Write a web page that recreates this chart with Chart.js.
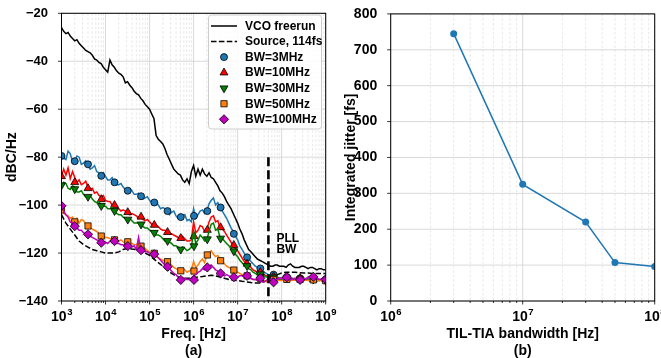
<!DOCTYPE html>
<html>
<head>
<meta charset="utf-8">
<script src="https://cdn.jsdelivr.net/npm/chart.js@4.4.0/dist/chart.umd.min.js"></script>
<style>
  html, body { margin: 0; padding: 0; background: #fff; }
  #wrap { position: relative; width: 661px; height: 358px; overflow: hidden; }
  #leftBox { position: absolute; left: 0; top: 0; width: 345px; height: 358px; }
  #rightBox { position: absolute; left: 330px; top: 0; width: 331px; height: 358px; }
</style>
</head>
<body>
<div id="wrap">
  <div id="leftBox"><canvas id="noiseChart"></canvas></div>
  <div id="rightBox"><canvas id="jitterChart"></canvas></div>
</div>
<script>
// ---- (a) phase noise ----
const decades = [1e3, 1e4, 1e5, 1e6, 1e7, 1e8];
// fine grid (20 per decade) for the measured traces, coarse grid (10 per decade) for the source curve
const mantissaFine = [1, 1.12, 1.26, 1.41, 1.58, 1.78, 2, 2.24, 2.51, 2.82,
  3.16, 3.55, 3.98, 4.47, 5.01, 5.62, 6.31, 7.08, 7.94, 8.91];
const mantissaCoarse = [1, 1.26, 1.58, 2, 2.51, 3.16, 3.98, 5.01, 6.31, 7.94];
const freqFineHz = decades.flatMap(d => mantissaFine.map(m => m * d)).concat([1e9]);
const freqCoarseHz = decades.flatMap(d => mantissaCoarse.map(m => m * d)).concat([1e9]);

const vcoFreerun = [
  -26, -27.5, -28.5, -28, -29.5, -30.5, -31.5, -31, -32.5, -33.5,
  -34.5, -35.5, -36, -36.5, -37.5, -39, -39.5, -40.5, -41, -42.5,
  -43.5, -44.5, -39.5, -41.5, -42.5, -44, -45, -45.5, -46.5, -49,
  -48.5, -50, -51, -52.5, -53.5, -54, -55.5, -56.5, -58, -59,
  -60, -62, -64, -71, -72.5, -73.5, -74.5, -76.5, -79, -81,
  -83, -85, -86, -87, -87.5, -89.5, -90.5, -89, -91, -86,
  -83.5, -88, -85, -87.5, -85, -87, -88, -86.5, -88.5, -89,
  -90.5, -92, -94, -95, -96.5, -98.5, -100, -101.5, -103.5, -105.5,
  -107.5, -110, -112, -114.5, -116.5, -118.5, -119.5, -120.5, -121.5, -122.5,
  -123, -123.5, -124, -124.5, -125, -125.5, -125.5, -125, -125, -125.5,
  -125.5, -125.5, -126, -125, -124.5, -125.5, -126, -126, -126, -125.5,
  -125.5, -126, -126.5, -126, -126, -126.5, -127, -126.5, -126.5, -127,
  -127];
const source114fs = [
  -104, -107.5, -110, -112.5, -115, -116.5, -117.5, -118.5, -119, -119.5,
  -120, -120, -120, -119.5, -118.5, -118, -118.3, -118.5, -119, -120,
  -121, -122.5, -124, -125.5, -127, -128.5, -129.5, -130.3, -130.5, -130.5,
  -130.3, -130, -129.8, -129.5, -129.3, -129.5, -130, -130.5, -131, -131.3,
  -131.5, -131.8, -132, -132.3, -132.5, -132.5, -132, -131, -130, -129,
  -128.3, -128, -128, -128, -128.2, -128.3, -128.3, -128.5, -128.5, -128.5,
  -128.5];
const bw3MHz = [
  -79.5, -80.5, -81, -77.5, -78.5, -82, -81.5, -79.5, -80, -83,
  -82.5, -81.5, -83, -85, -84.5, -83.5, -86, -86.5, -87.5, -86.5,
  -88, -89.5, -89.5, -88.5, -90.5, -91.5, -91.5, -91, -92.5, -93.5,
  -94, -93, -94, -95.5, -95.5, -95, -96.3, -97.5, -97, -96.5,
  -98, -99, -99, -98.5, -100, -101.5, -101, -101.5, -102.5, -104,
  -103, -102.5, -104.5, -105.5, -105, -104.5, -104, -106.5, -106, -107,
  -101.5, -105.5, -104, -102.5, -102, -103.5, -102.5, -99.5, -98, -97,
  -100, -99, -101, -102.5, -104, -105.5, -107.5, -109.5, -111, -113,
  -114.5, -117, -118.5, -120, -121.5, -122.5, -123.5, -124.5, -125.5, -126,
  -126.5, -127.5, -128, -128.5, -129, -129.5, -130, -129.5, -130, -130.5,
  -130.5, -130, -130.5, -131, -130.5, -130.5, -131, -130.5, -130.5, -131,
  -131, -130.5, -130.5, -131, -131, -130.5, -131, -131, -131, -130.5,
  -131];
const bw10MHz = [
  -88, -85, -87.5, -84.5, -89, -86, -88.5, -90.5, -89.5, -91.5,
  -91, -90, -92.5, -93.5, -93, -95, -94.5, -96, -96.5, -96,
  -98, -98.5, -98.5, -100, -100, -100.5, -101.5, -102.5, -102, -102.5,
  -103, -104, -103.5, -104, -104.5, -105.5, -105, -106, -106.5, -106,
  -107, -108, -108.3, -108.5, -109, -110, -110.5, -110.5, -111.3, -112,
  -112, -112.5, -113, -113.5, -113.8, -113, -114, -115, -115, -114.5,
  -107, -111.5, -110.5, -108.5, -109, -111, -110.5, -107, -105, -104.5,
  -107, -106.5, -109.5, -110, -111, -112.5, -114, -115.5, -116.5, -118,
  -119, -120.5, -122, -123.5, -124.5, -125.5, -126, -127, -127.5, -128,
  -128, -128.5, -129, -129.5, -129.8, -130, -130.5, -130.5, -130.5, -130.5,
  -130.5, -131, -131, -130.5, -130.5, -131, -131, -131, -131, -131,
  -131, -131.3, -131, -131, -131, -131.3, -131.3, -131, -131, -131.3,
  -131.3];
const bw30MHz = [
  -91.7, -90.5, -91, -93, -93.5, -92, -92.5, -94.5, -94.5, -94,
  -95.5, -96.5, -96.5, -96, -97.5, -98.5, -99, -98.5, -100, -100.5,
  -100.5, -101.5, -101.5, -101, -102.4, -103.5, -104, -104, -105, -105.5,
  -106, -105.5, -106.5, -107.5, -107.5, -107.5, -108, -109, -109.5, -109.5,
  -110.5, -111, -111.5, -112.5, -112.5, -113, -114, -115, -115, -115.5,
  -116, -117, -117, -117.5, -118.5, -117.5, -118, -119, -118.5, -117.5,
  -111, -116, -114.5, -112.5, -113.5, -115, -114.5, -111, -108, -107.5,
  -110.5, -110, -113.5, -114, -115, -116, -117, -118, -119, -120.5,
  -121.5, -123, -124, -125, -125.5, -126.5, -127, -128, -128.5, -129,
  -129, -129.5, -129.5, -130, -130, -130.5, -130.5, -130.5, -130.5, -131,
  -131, -131, -131, -131, -131, -131.3, -131, -131, -131, -131.3,
  -131.3, -131, -131, -131.3, -131.3, -131.3, -131.3, -131.5, -131.3, -131.5,
  -131.5];
const bw50MHz = [
  -102, -103.5, -104, -104.5, -105.5, -105, -107, -105.5, -107.5, -106,
  -106.5, -108, -108.7, -109.5, -110, -110.5, -111, -112, -112.5, -113,
  -113.5, -113.5, -114, -114.5, -114.5, -115, -115, -114.5, -115.3, -116,
  -115.5, -115.5, -116, -116.5, -116.5, -116, -117, -117.5, -118, -119,
  -119.5, -120, -120.5, -121.5, -122, -122.5, -123, -123.5, -123.6, -124.5,
  -125, -126, -126.5, -127, -127.5, -126.5, -127, -128, -127.5, -127,
  -123.5, -126, -125, -123.5, -122.5, -124, -121, -120, -119, -120.5,
  -121.5, -121, -123, -124, -124.5, -125.5, -126, -126.5, -127, -127.5,
  -128, -128.5, -129, -129.5, -129.5, -130, -130.5, -131, -131, -131.5,
  -131.5, -131.5, -131.5, -132, -131.5, -131.5, -131.5, -131.3, -131.3, -131.5,
  -131.5, -131.3, -131.3, -131.5, -131.5, -131.3, -131.3, -131.5, -131.5, -131.5,
  -131.5, -131.3, -131.5, -131.5, -131.3, -131.5, -131.5, -131.5, -131.5, -131.3,
  -131.5];
const bw100MHz = [
  -100.3, -102.5, -104, -105, -107, -107.5, -109, -109.5, -110.5, -110.5,
  -111.5, -112, -112.2, -113, -113.5, -114, -114.5, -115, -115.5, -115,
  -115.5, -116, -115, -114.5, -115, -116, -116, -116.5, -116.5, -117,
  -117, -117.5, -117.5, -117, -118.5, -113.5, -118.5, -119, -119.5, -119.5,
  -120, -120.5, -120.5, -121, -122, -123, -124, -125, -125.7, -126.5,
  -127.5, -128.5, -129, -130, -131, -130.5, -130.5, -131, -131, -130.5,
  -129.5, -129, -128, -127.5, -126.5, -127, -126, -125.5, -125, -126,
  -127, -127.5, -128.5, -129, -129.5, -129, -129.5, -130, -130, -129.5,
  -130, -129.5, -129.5, -130, -129.5, -130, -130.5, -131, -131, -131.5,
  -131.5, -132, -132, -131.5, -131.5, -131, -130.5, -131, -131, -130.5,
  -130.5, -131, -131, -130.5, -131, -131, -130.5, -131, -131, -130.5,
  -130.5, -131, -130, -130.5, -131, -130.5, -130.5, -131, -131, -130.5,
  -131];

// marker positions (every octave)
const markerHz = [1e3, 2e3, 4e3, 8e3, 1.6e4, 3.2e4, 6.4e4, 1.28e5, 2.56e5, 5.12e5,
  1.02e6, 2.05e6, 4.1e6, 8.19e6, 1.64e7, 3.28e7, 6.55e7, 1.31e8, 2.62e8, 5.24e8, 1e9];
const mk3MHz = [-79.5, -81.7, -83, -87.8, -90.5, -94, -96.3, -98.9, -102.5, -105,
  -104.5, -102.5, -101, -112, -121.8, -126.4, -129, -130, -130.5, -130.5, -131];
const mk10MHz = [-88, -90.5, -93, -97.6, -100, -103, -104.9, -108.3, -111.3, -113.8,
  -113, -110.4, -109.3, -116.7, -124.5, -128, -129.8, -130.5, -130.5, -131, -131];
const mk30MHz = [-91.7, -93.3, -96.5, -100.3, -102.4, -106, -108, -111.5, -114.9, -118.5,
  -117.1, -114.2, -113.9, -119.2, -125.4, -128.8, -130.1, -130.5, -131, -131, -131.5];
const mk50MHz = [-102, -107, -108.7, -112.9, -114.5, -115.3, -117.1, -120.1, -123.6, -127.4,
  -127.5, -120.8, -123.2, -127.1, -129.5, -130.5, -131, -131, -131, -131.2, -131.5];
const mk100MHz = [-100.3, -108.8, -112.2, -115.7, -115, -117.1, -118.8, -120.5, -125.7, -131.2,
  -131.2, -126, -128.5, -130.1, -129.5, -130.5, -132.2, -130.1, -131.2, -129.9, -131];

const pllBwHz = 5e7;
const pllBwSpan = [-80, -140];
const noiseTicks = [-140, -120, -100, -80, -60, -40, -20];

// ---- (b) integrated jitter ----
const tiaBwHz = [3e6, 1e7, 3e7, 5e7, 1e8];
const jitterFs = [745, 325, 220, 107, 96];
const jitterTicks = [0, 100, 200, 300, 400, 500, 600, 700, 800];

const FONT = '"Liberation Sans", Arial, Helvetica, sans-serif';
const pts = (xs, ys) => xs.map((v, i) => ({ x: v, y: ys[i] }));

const bwSeries = [
  { label: 'BW=3MHz', line: bw3MHz, marks: mk3MHz, color: '#1f77b4', shape: 'circle', r: 3.5, rot: 0 },
  { label: 'BW=10MHz', line: bw10MHz, marks: mk10MHz, color: '#ff0000', shape: 'triangle', r: 4.6, rot: 0 },
  { label: 'BW=30MHz', line: bw30MHz, marks: mk30MHz, color: '#008000', shape: 'triangle', r: 4.6, rot: 180 },
  { label: 'BW=50MHz', line: bw50MHz, marks: mk50MHz, color: '#ff7f0e', shape: 'rect', r: 4.4, rot: 0 },
  { label: 'BW=100MHz', line: bw100MHz, marks: mk100MHz, color: '#bf00bf', shape: 'rectRot', r: 4.6, rot: 0 },
];

function strokeLine(ctx, x1, y1, x2, y2) {
  ctx.beginPath(); ctx.moveTo(x1, y1); ctx.lineTo(x2, y2); ctx.stroke();
}

function marker(ctx, s, x, y) {
  const r = s.r;
  ctx.beginPath();
  if (s.shape === 'circle') {
    ctx.arc(x, y, r, 0, Math.PI * 2);
  } else if (s.shape === 'triangle') {
    const sg = s.rot ? -1 : 1;
    ctx.moveTo(x, y - sg * r);
    ctx.lineTo(x + r * 0.866, y + sg * r * 0.5);
    ctx.lineTo(x - r * 0.866, y + sg * r * 0.5);
  } else if (s.shape === 'rect') {
    const h = r * Math.SQRT1_2;
    ctx.rect(x - h, y - h, 2 * h, 2 * h);
  } else {
    ctx.moveTo(x, y - r); ctx.lineTo(x + r, y); ctx.lineTo(x, y + r); ctx.lineTo(x - r, y);
  }
  ctx.closePath();
  ctx.fillStyle = s.color; ctx.fill();
  ctx.strokeStyle = '#000'; ctx.lineWidth = 0.8; ctx.stroke();
}

// grid, frame, log tick labels and titles drawn around the library's scales
function axisDeco(cfg) {
  return {
    id: 'axisDeco',
    beforeDatasetsDraw(chart) {
      const { ctx, chartArea: a, scales: { x, y } } = chart;
      const d0 = Math.round(Math.log10(x.min)), d1 = Math.round(Math.log10(x.max));
      ctx.save();
      ctx.lineWidth = 0.8;
      ctx.strokeStyle = '#e2e2e2';
      ctx.setLineDash([2.5, 2]);
      for (let d = d0; d < d1; d++) {
        for (let m = 2; m <= 9; m++) {
          const px = x.getPixelForValue(m * 10 ** d);
          strokeLine(ctx, px, a.top, px, a.bottom);
        }
      }
      ctx.setLineDash([]);
      ctx.strokeStyle = '#cfcfcf';
      for (let d = d0; d <= d1; d++) {
        const px = x.getPixelForValue(10 ** d);
        strokeLine(ctx, px, a.top, px, a.bottom);
      }
      y.ticks.forEach(t => {
        const py = y.getPixelForValue(t.value);
        strokeLine(ctx, a.left, py, a.right, py);
      });
      ctx.restore();
    },
    afterDatasetsDraw(chart) {
      const { ctx, chartArea: a, scales: { x, y } } = chart;
      const d0 = Math.round(Math.log10(x.min)), d1 = Math.round(Math.log10(x.max));
      ctx.save();
      if (cfg.extra) cfg.extra(chart);
      ctx.strokeStyle = '#000';
      ctx.lineWidth = 1;
      ctx.strokeRect(a.left, a.top, a.right - a.left, a.bottom - a.top);
      // tick marks
      ctx.lineWidth = 0.8;
      for (let d = d0; d <= d1; d++) {
        const px = x.getPixelForValue(10 ** d);
        strokeLine(ctx, px, a.bottom, px, a.bottom + 3.5);
        if (d < d1) {
          for (let m = 2; m <= 9; m++) {
            const pm = x.getPixelForValue(m * 10 ** d);
            strokeLine(ctx, pm, a.bottom, pm, a.bottom + 2);
          }
        }
      }
      y.ticks.forEach(t => {
        const py = y.getPixelForValue(t.value);
        strokeLine(ctx, a.left - 3.5, py, a.left, py);
      });
      // 10^n labels
      ctx.fillStyle = '#000';
      ctx.textBaseline = 'alphabetic';
      ctx.textAlign = 'left';
      for (let d = d0; d <= d1; d++) {
        const px = x.getPixelForValue(10 ** d);
        ctx.font = 'bold 14px ' + FONT;
        const wb = ctx.measureText('10').width;
        ctx.font = 'bold 9.5px ' + FONT;
        const we = ctx.measureText(String(d)).width;
        const sx = px - (wb + we) / 2;
        ctx.font = 'bold 14px ' + FONT;
        ctx.fillText('10', sx, a.bottom + 20);
        ctx.font = 'bold 9.5px ' + FONT;
        ctx.fillText(String(d), sx + wb + 0.5, a.bottom + 14);
      }
      // titles
      ctx.font = 'bold 14px ' + FONT;
      ctx.textAlign = 'center';
      ctx.textBaseline = 'middle';
      const cx = (a.left + a.right) / 2;
      ctx.fillText(cfg.xTitle, cx, 334);
      ctx.fillText(cfg.tag, cx, 351);
      ctx.translate(cfg.yTitleX, (a.top + a.bottom) / 2);
      ctx.rotate(-Math.PI / 2);
      ctx.fillText(cfg.yTitle, 0, 0);
      ctx.restore();
    }
  };
}

function noiseExtras(chart) {
  const { ctx, scales: { x } } = chart;
  // PLL BW note
  ctx.fillStyle = '#000';
  ctx.font = 'bold 12px ' + FONT;
  ctx.textAlign = 'left';
  ctx.textBaseline = 'middle';
  const px = x.getPixelForValue(pllBwHz);
  ctx.fillText('PLL', px + 8, 239);
  ctx.fillText('BW', px + 8, 250);
  // legend box
  const bx = 208.5, by = 15, bw = 113, bh = 114;
  ctx.beginPath();
  ctx.roundRect(bx, by, bw, bh, 3);
  ctx.fillStyle = 'rgba(255,255,255,0.85)';
  ctx.fill();
  ctx.strokeStyle = '#cccccc';
  ctx.lineWidth = 1;
  ctx.stroke();
  const rowY = i => 26 + i * 15.55;
  ctx.strokeStyle = '#000';
  ctx.lineWidth = 1.5;
  strokeLine(ctx, 211, rowY(0), 237, rowY(0));
  ctx.setLineDash([5.5, 2.4]);
  strokeLine(ctx, 211, rowY(1), 237, rowY(1));
  ctx.setLineDash([]);
  bwSeries.forEach((s, i) => marker(ctx, s, 224, rowY(i + 2)));
  ctx.fillStyle = '#000';
  ctx.font = 'bold 12px ' + FONT;
  const labels = ['VCO freerun', 'Source, 114fs'].concat(bwSeries.map(s => s.label));
  labels.forEach((t, i) => ctx.fillText(t, 245, rowY(i) + 0.5));
}

const noiseDatasets = [
  { data: pts(freqFineHz, vcoFreerun), borderColor: '#000', borderWidth: 1.5, order: 30 },
  { data: pts(freqCoarseHz, source114fs), borderColor: '#000', borderWidth: 1.5, borderDash: [5.5, 2.4], order: 29 },
];
bwSeries.forEach((s, i) => {
  noiseDatasets.push({ data: pts(freqFineHz, s.line), borderColor: s.color, borderWidth: 1.5, order: 28 - 2 * i });
  noiseDatasets.push({
    data: pts(markerHz, s.marks), showLine: false, pointStyle: s.shape, pointRadius: s.r,
    pointRotation: s.rot, backgroundColor: s.color, borderColor: '#000', borderWidth: 0.8, order: 27 - 2 * i
  });
});
noiseDatasets.push({
  data: pllBwSpan.map(v => ({ x: pllBwHz, y: v })), borderColor: '#000', borderWidth: 2.6,
  borderDash: [9, 4], order: 1
});
noiseDatasets.forEach(d => {
  if (d.showLine === undefined) { d.showLine = true; d.pointRadius = 0; }
  d.fill = false;
  d.tension = 0;
});

new Chart(document.getElementById('noiseChart'), {
  type: 'scatter',
  data: { datasets: noiseDatasets },
  options: {
    responsive: true,
    maintainAspectRatio: false,
    animation: false,
    devicePixelRatio: 1,
    events: [],
    layout: { padding: { top: 12.5, right: 19.3, left: 0, bottom: 0 } },
    plugins: { legend: { display: false }, tooltip: { enabled: false } },
    scales: {
      x: {
        type: 'logarithmic', min: 1e3, max: 1e9,
        ticks: { display: false }, grid: { display: false }, border: { display: false },
        afterFit: s => { s.height = 57; }
      },
      y: {
        min: -140, max: -20,
        afterBuildTicks: s => { s.ticks = noiseTicks.map(v => ({ value: v })); },
        ticks: {
          color: '#000', padding: 5.5, font: { family: FONT, size: 13, weight: 'bold' },
          callback: v => (v < 0 ? '\u2212' + (-v) : String(v))
        },
        grid: { display: false }, border: { display: false },
        afterFit: s => { s.width = 61.5; }
      }
    }
  },
  plugins: [axisDeco({ xTitle: 'Freq. [Hz]', tag: '(a)', yTitle: 'dBC/Hz', yTitleX: 12, extra: noiseExtras })]
});

new Chart(document.getElementById('jitterChart'), {
  type: 'scatter',
  data: {
    datasets: [{
      data: pts(tiaBwHz, jitterFs), showLine: true, borderColor: '#1f77b4', backgroundColor: '#1f77b4',
      borderWidth: 1.5, pointRadius: 3.5, pointBorderWidth: 0, tension: 0
    }]
  },
  options: {
    responsive: true,
    maintainAspectRatio: false,
    animation: false,
    devicePixelRatio: 1,
    events: [],
    layout: { padding: { top: 12.5, right: 6.3, left: 0, bottom: 0 } },
    plugins: { legend: { display: false }, tooltip: { enabled: false } },
    scales: {
      x: {
        type: 'logarithmic', min: 1e6, max: 1e8,
        ticks: { display: false }, grid: { display: false }, border: { display: false },
        afterFit: s => { s.height = 57; }
      },
      y: {
        min: 0, max: 800,
        afterBuildTicks: s => { s.ticks = jitterTicks.map(v => ({ value: v })); },
        ticks: { color: '#000', padding: 5.5, font: { family: FONT, size: 14, weight: 'bold' } },
        grid: { display: false }, border: { display: false },
        afterFit: s => { s.width = 60.7; }
      }
    }
  },
  plugins: [axisDeco({ xTitle: 'TIL-TIA bandwidth [Hz]', tag: '(b)', yTitle: 'Integrated jitter [fs]', yTitleX: 21 })]
});
</script>
</body>
</html>
